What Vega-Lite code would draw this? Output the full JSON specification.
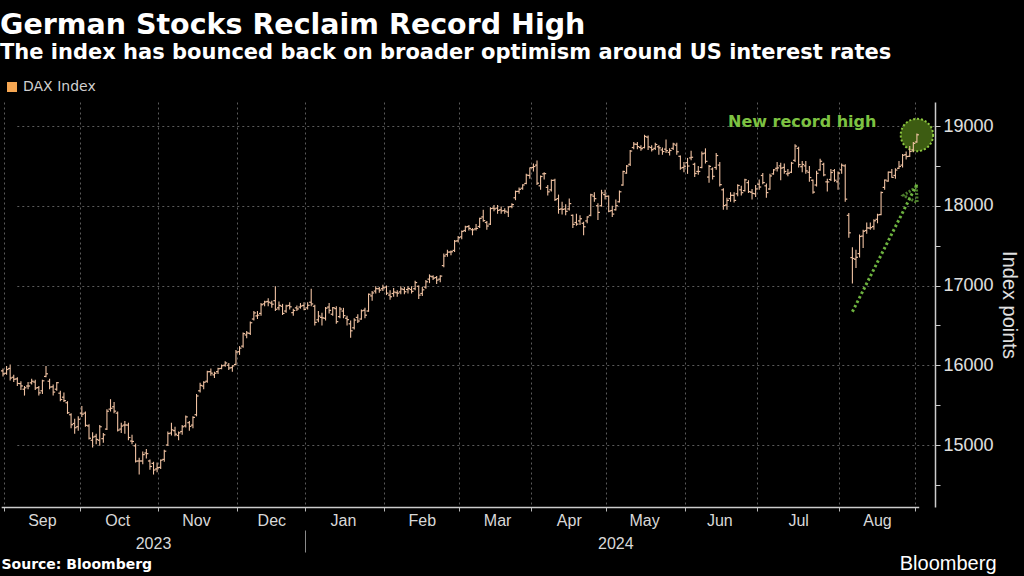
{
  "$schema": "https://vega.github.io/schema/vega-lite/v6.json",
  "width": 935,
  "height": 405,
  "autosize": "none",
  "padding": {"left": 0, "top": 102, "right": 89, "bottom": 69},
  "background": "#000000",
  "title": {
    "text": "German Stocks Reclaim Record High",
    "subtitle": "The index has bounced back on broader optimism around US interest rates",
    "anchor": "start",
    "frame": "group",
    "offset": 17,
    "font": "DejaVu Sans",
    "fontSize": 28.5,
    "fontWeight": "bold",
    "color": "#ffffff",
    "subtitleFont": "DejaVu Sans",
    "subtitleFontSize": 21,
    "subtitleFontWeight": "bold",
    "subtitleColor": "#ffffff",
    "subtitlePadding": 3
  },
  "config": {
    "view": {"stroke": null},
    "axis": {"labelFont": "Liberation Sans", "titleFont": "Liberation Sans"}
  },
  "datasets": {
    "dax": [
      {"d":"2023-08-30","o":15930,"h":15960,"l":15860,"c":15891},
      {"d":"2023-08-31","o":15900,"h":15990,"l":15880,"c":15947},
      {"d":"2023-09-01","o":15960,"h":16010,"l":15810,"c":15840},
      {"d":"2023-09-04","o":15850,"h":15880,"l":15790,"c":15825},
      {"d":"2023-09-05","o":15830,"h":15850,"l":15740,"c":15772},
      {"d":"2023-09-06","o":15770,"h":15800,"l":15690,"c":15741},
      {"d":"2023-09-07","o":15700,"h":15740,"l":15620,"c":15718},
      {"d":"2023-09-08","o":15740,"h":15790,"l":15700,"c":15740},
      {"d":"2023-09-11","o":15780,"h":15830,"l":15760,"c":15800},
      {"d":"2023-09-12","o":15790,"h":15820,"l":15690,"c":15715},
      {"d":"2023-09-13","o":15720,"h":15740,"l":15620,"c":15654},
      {"d":"2023-09-14","o":15680,"h":15820,"l":15640,"c":15805},
      {"d":"2023-09-15","o":15860,"h":15990,"l":15850,"c":15893},
      {"d":"2023-09-18","o":15800,"h":15830,"l":15700,"c":15727},
      {"d":"2023-09-19","o":15730,"h":15760,"l":15620,"c":15664},
      {"d":"2023-09-20","o":15700,"h":15790,"l":15680,"c":15782},
      {"d":"2023-09-21","o":15650,"h":15680,"l":15550,"c":15571},
      {"d":"2023-09-22","o":15600,"h":15660,"l":15540,"c":15557},
      {"d":"2023-09-25","o":15530,"h":15550,"l":15390,"c":15405},
      {"d":"2023-09-26","o":15380,"h":15400,"l":15210,"c":15255},
      {"d":"2023-09-27","o":15270,"h":15330,"l":15140,"c":15217},
      {"d":"2023-09-28","o":15230,"h":15360,"l":15180,"c":15323},
      {"d":"2023-09-29","o":15400,"h":15490,"l":15350,"c":15387},
      {"d":"2023-10-02","o":15400,"h":15420,"l":15230,"c":15247},
      {"d":"2023-10-03","o":15240,"h":15260,"l":15070,"c":15085},
      {"d":"2023-10-04","o":15060,"h":15160,"l":14970,"c":15100},
      {"d":"2023-10-05","o":15110,"h":15140,"l":15010,"c":15070},
      {"d":"2023-10-06","o":15060,"h":15250,"l":14990,"c":15229},
      {"d":"2023-10-09","o":15080,"h":15150,"l":15030,"c":15128},
      {"d":"2023-10-10","o":15200,"h":15450,"l":15190,"c":15424},
      {"d":"2023-10-11","o":15450,"h":15575,"l":15420,"c":15460},
      {"d":"2023-10-12","o":15480,"h":15540,"l":15400,"c":15425},
      {"d":"2023-10-13","o":15400,"h":15420,"l":15170,"c":15187},
      {"d":"2023-10-16","o":15200,"h":15280,"l":15150,"c":15238},
      {"d":"2023-10-17","o":15250,"h":15300,"l":15140,"c":15251},
      {"d":"2023-10-18","o":15250,"h":15280,"l":15060,"c":15094},
      {"d":"2023-10-19","o":15050,"h":15130,"l":15010,"c":15045},
      {"d":"2023-10-20","o":14990,"h":15020,"l":14780,"c":14798},
      {"d":"2023-10-23","o":14800,"h":14840,"l":14630,"c":14800},
      {"d":"2023-10-24","o":14800,"h":14920,"l":14760,"c":14880},
      {"d":"2023-10-25","o":14900,"h":14950,"l":14830,"c":14892},
      {"d":"2023-10-26","o":14800,"h":14820,"l":14690,"c":14731},
      {"d":"2023-10-27","o":14770,"h":14790,"l":14630,"c":14687},
      {"d":"2023-10-30","o":14700,"h":14780,"l":14660,"c":14716},
      {"d":"2023-10-31","o":14720,"h":14820,"l":14700,"c":14810},
      {"d":"2023-11-01","o":14820,"h":14940,"l":14790,"c":14923},
      {"d":"2023-11-02","o":15000,"h":15170,"l":14990,"c":15144},
      {"d":"2023-11-03","o":15150,"h":15280,"l":15120,"c":15190},
      {"d":"2023-11-06","o":15180,"h":15230,"l":15110,"c":15136},
      {"d":"2023-11-07","o":15120,"h":15170,"l":15060,"c":15153},
      {"d":"2023-11-08","o":15170,"h":15250,"l":15130,"c":15229},
      {"d":"2023-11-09","o":15240,"h":15370,"l":15220,"c":15353},
      {"d":"2023-11-10","o":15280,"h":15300,"l":15180,"c":15234},
      {"d":"2023-11-13","o":15250,"h":15360,"l":15210,"c":15346},
      {"d":"2023-11-14","o":15380,"h":15640,"l":15360,"c":15615},
      {"d":"2023-11-15","o":15680,"h":15780,"l":15660,"c":15748},
      {"d":"2023-11-16","o":15740,"h":15800,"l":15700,"c":15787},
      {"d":"2023-11-17","o":15800,"h":15930,"l":15780,"c":15919},
      {"d":"2023-11-20","o":15920,"h":15960,"l":15870,"c":15901},
      {"d":"2023-11-21","o":15880,"h":15920,"l":15840,"c":15900},
      {"d":"2023-11-22","o":15920,"h":15970,"l":15890,"c":15957},
      {"d":"2023-11-23","o":15960,"h":16010,"l":15950,"c":15994},
      {"d":"2023-11-24","o":16000,"h":16050,"l":15980,"c":16029},
      {"d":"2023-11-27","o":16000,"h":16030,"l":15940,"c":15966},
      {"d":"2023-11-28","o":15970,"h":16000,"l":15920,"c":15992},
      {"d":"2023-11-29","o":16010,"h":16190,"l":16000,"c":16166},
      {"d":"2023-11-30","o":16170,"h":16240,"l":16130,"c":16215},
      {"d":"2023-12-01","o":16240,"h":16410,"l":16220,"c":16397},
      {"d":"2023-12-04","o":16380,"h":16430,"l":16340,"c":16405},
      {"d":"2023-12-05","o":16400,"h":16550,"l":16380,"c":16533},
      {"d":"2023-12-06","o":16580,"h":16680,"l":16560,"c":16656},
      {"d":"2023-12-07","o":16620,"h":16680,"l":16580,"c":16628},
      {"d":"2023-12-08","o":16650,"h":16780,"l":16620,"c":16759},
      {"d":"2023-12-11","o":16770,"h":16810,"l":16740,"c":16794},
      {"d":"2023-12-12","o":16800,"h":16840,"l":16740,"c":16791},
      {"d":"2023-12-13","o":16780,"h":16810,"l":16720,"c":16766},
      {"d":"2023-12-14","o":16810,"h":16990,"l":16680,"c":16702},
      {"d":"2023-12-15","o":16720,"h":16800,"l":16690,"c":16751},
      {"d":"2023-12-18","o":16740,"h":16770,"l":16630,"c":16650},
      {"d":"2023-12-19","o":16680,"h":16760,"l":16660,"c":16744},
      {"d":"2023-12-20","o":16750,"h":16790,"l":16700,"c":16733},
      {"d":"2023-12-21","o":16660,"h":16710,"l":16620,"c":16687},
      {"d":"2023-12-22","o":16720,"h":16750,"l":16680,"c":16706},
      {"d":"2023-12-27","o":16730,"h":16780,"l":16710,"c":16742},
      {"d":"2023-12-28","o":16750,"h":16790,"l":16690,"c":16701},
      {"d":"2023-12-29","o":16720,"h":16790,"l":16700,"c":16752},
      {"d":"2024-01-02","o":16790,"h":16960,"l":16740,"c":16769},
      {"d":"2024-01-03","o":16740,"h":16760,"l":16500,"c":16538},
      {"d":"2024-01-04","o":16570,"h":16680,"l":16540,"c":16617},
      {"d":"2024-01-05","o":16600,"h":16660,"l":16500,"c":16594},
      {"d":"2024-01-08","o":16590,"h":16730,"l":16560,"c":16716},
      {"d":"2024-01-09","o":16730,"h":16780,"l":16650,"c":16689},
      {"d":"2024-01-10","o":16640,"h":16730,"l":16620,"c":16722},
      {"d":"2024-01-11","o":16710,"h":16740,"l":16520,"c":16547},
      {"d":"2024-01-12","o":16610,"h":16730,"l":16590,"c":16705},
      {"d":"2024-01-15","o":16680,"h":16720,"l":16590,"c":16622},
      {"d":"2024-01-16","o":16590,"h":16620,"l":16500,"c":16572},
      {"d":"2024-01-17","o":16520,"h":16560,"l":16345,"c":16432},
      {"d":"2024-01-18","o":16470,"h":16590,"l":16450,"c":16567},
      {"d":"2024-01-19","o":16600,"h":16640,"l":16530,"c":16555},
      {"d":"2024-01-22","o":16580,"h":16700,"l":16570,"c":16683},
      {"d":"2024-01-23","o":16690,"h":16720,"l":16590,"c":16628},
      {"d":"2024-01-24","o":16680,"h":16900,"l":16670,"c":16890},
      {"d":"2024-01-25","o":16870,"h":16930,"l":16810,"c":16907},
      {"d":"2024-01-26","o":16930,"h":16990,"l":16900,"c":16961},
      {"d":"2024-01-29","o":16960,"h":16980,"l":16910,"c":16942},
      {"d":"2024-01-30","o":16960,"h":17010,"l":16930,"c":16972},
      {"d":"2024-01-31","o":16980,"h":17000,"l":16880,"c":16904},
      {"d":"2024-02-01","o":16880,"h":16940,"l":16820,"c":16859},
      {"d":"2024-02-02","o":16900,"h":16970,"l":16860,"c":16918},
      {"d":"2024-02-05","o":16910,"h":16940,"l":16860,"c":16904},
      {"d":"2024-02-06","o":16920,"h":16990,"l":16890,"c":16957},
      {"d":"2024-02-07","o":16950,"h":16980,"l":16890,"c":16922},
      {"d":"2024-02-08","o":16950,"h":16990,"l":16900,"c":16963},
      {"d":"2024-02-09","o":16950,"h":16990,"l":16900,"c":16927},
      {"d":"2024-02-12","o":16960,"h":17060,"l":16940,"c":17037},
      {"d":"2024-02-13","o":16990,"h":17000,"l":16830,"c":16880},
      {"d":"2024-02-14","o":16900,"h":16980,"l":16870,"c":16946},
      {"d":"2024-02-15","o":16980,"h":17070,"l":16960,"c":17047},
      {"d":"2024-02-16","o":17080,"h":17140,"l":17030,"c":17117},
      {"d":"2024-02-19","o":17110,"h":17130,"l":17070,"c":17093},
      {"d":"2024-02-20","o":17100,"h":17120,"l":17020,"c":17068},
      {"d":"2024-02-21","o":17080,"h":17130,"l":17040,"c":17118},
      {"d":"2024-02-22","o":17250,"h":17400,"l":17230,"c":17370},
      {"d":"2024-02-23","o":17390,"h":17450,"l":17360,"c":17419},
      {"d":"2024-02-26","o":17420,"h":17440,"l":17380,"c":17423},
      {"d":"2024-02-27","o":17440,"h":17570,"l":17420,"c":17556},
      {"d":"2024-02-28","o":17560,"h":17620,"l":17540,"c":17601},
      {"d":"2024-02-29","o":17610,"h":17690,"l":17580,"c":17678},
      {"d":"2024-03-01","o":17690,"h":17750,"l":17670,"c":17735},
      {"d":"2024-03-04","o":17740,"h":17760,"l":17690,"c":17716},
      {"d":"2024-03-05","o":17700,"h":17720,"l":17630,"c":17698},
      {"d":"2024-03-06","o":17710,"h":17770,"l":17690,"c":17716},
      {"d":"2024-03-07","o":17740,"h":17850,"l":17720,"c":17842},
      {"d":"2024-03-08","o":17860,"h":17950,"l":17800,"c":17814},
      {"d":"2024-03-11","o":17790,"h":17810,"l":17700,"c":17746},
      {"d":"2024-03-12","o":17770,"h":17980,"l":17760,"c":17965},
      {"d":"2024-03-13","o":17970,"h":18010,"l":17930,"c":17961},
      {"d":"2024-03-14","o":17970,"h":18010,"l":17900,"c":17942},
      {"d":"2024-03-15","o":17950,"h":17990,"l":17900,"c":17936},
      {"d":"2024-03-18","o":17940,"h":17970,"l":17900,"c":17932},
      {"d":"2024-03-19","o":17920,"h":17990,"l":17860,"c":17987},
      {"d":"2024-03-20","o":17990,"h":18030,"l":17970,"c":18015},
      {"d":"2024-03-21","o":18100,"h":18190,"l":18070,"c":18179},
      {"d":"2024-03-22","o":18180,"h":18230,"l":18150,"c":18206},
      {"d":"2024-03-25","o":18220,"h":18270,"l":18200,"c":18261},
      {"d":"2024-03-26","o":18280,"h":18400,"l":18270,"c":18384},
      {"d":"2024-03-27","o":18380,"h":18480,"l":18340,"c":18477},
      {"d":"2024-03-28","o":18480,"h":18530,"l":18430,"c":18492},
      {"d":"2024-04-02","o":18510,"h":18567,"l":18260,"c":18283},
      {"d":"2024-04-03","o":18250,"h":18380,"l":18200,"c":18367},
      {"d":"2024-04-04","o":18400,"h":18420,"l":18330,"c":18403},
      {"d":"2024-04-05","o":18230,"h":18260,"l":18130,"c":18175},
      {"d":"2024-04-08","o":18200,"h":18330,"l":18180,"c":18318},
      {"d":"2024-04-09","o":18320,"h":18340,"l":18060,"c":18077},
      {"d":"2024-04-10","o":18090,"h":18140,"l":17900,"c":17954},
      {"d":"2024-04-11","o":17960,"h":18050,"l":17890,"c":17954},
      {"d":"2024-04-12","o":17960,"h":18020,"l":17880,"c":17930},
      {"d":"2024-04-15","o":17960,"h":18090,"l":17940,"c":18027},
      {"d":"2024-04-16","o":17880,"h":17890,"l":17720,"c":17767},
      {"d":"2024-04-17","o":17790,"h":17900,"l":17750,"c":17770},
      {"d":"2024-04-18","o":17810,"h":17880,"l":17760,"c":17837},
      {"d":"2024-04-19","o":17780,"h":17800,"l":17630,"c":17737},
      {"d":"2024-04-22","o":17810,"h":17870,"l":17780,"c":17860},
      {"d":"2024-04-23","o":17880,"h":18150,"l":17870,"c":18137},
      {"d":"2024-04-24","o":18120,"h":18170,"l":18050,"c":18089},
      {"d":"2024-04-25","o":18000,"h":18030,"l":17820,"c":17917},
      {"d":"2024-04-26","o":18000,"h":18200,"l":17990,"c":18161},
      {"d":"2024-04-29","o":18140,"h":18200,"l":18080,"c":18118},
      {"d":"2024-04-30","o":18120,"h":18130,"l":17920,"c":17932},
      {"d":"2024-05-02","o":17940,"h":18000,"l":17860,"c":17896},
      {"d":"2024-05-03","o":17950,"h":18080,"l":17940,"c":18001},
      {"d":"2024-05-06","o":18050,"h":18190,"l":18040,"c":18175},
      {"d":"2024-05-07","o":18260,"h":18440,"l":18250,"c":18430},
      {"d":"2024-05-08","o":18410,"h":18510,"l":18400,"c":18498},
      {"d":"2024-05-09","o":18520,"h":18700,"l":18500,"c":18686},
      {"d":"2024-05-10","o":18730,"h":18800,"l":18710,"c":18773},
      {"d":"2024-05-13","o":18770,"h":18800,"l":18710,"c":18742},
      {"d":"2024-05-14","o":18730,"h":18760,"l":18690,"c":18716},
      {"d":"2024-05-15","o":18730,"h":18890,"l":18720,"c":18869},
      {"d":"2024-05-16","o":18860,"h":18880,"l":18700,"c":18739},
      {"d":"2024-05-17","o":18730,"h":18760,"l":18680,"c":18704},
      {"d":"2024-05-20","o":18720,"h":18790,"l":18700,"c":18768},
      {"d":"2024-05-21","o":18740,"h":18760,"l":18640,"c":18726},
      {"d":"2024-05-22","o":18700,"h":18730,"l":18640,"c":18680},
      {"d":"2024-05-23","o":18710,"h":18830,"l":18660,"c":18691},
      {"d":"2024-05-24","o":18670,"h":18720,"l":18630,"c":18693},
      {"d":"2024-05-27","o":18720,"h":18790,"l":18700,"c":18774},
      {"d":"2024-05-28","o":18760,"h":18790,"l":18640,"c":18677},
      {"d":"2024-05-29","o":18620,"h":18630,"l":18450,"c":18473},
      {"d":"2024-05-30","o":18480,"h":18550,"l":18420,"c":18496},
      {"d":"2024-05-31","o":18540,"h":18600,"l":18400,"c":18498},
      {"d":"2024-06-03","o":18600,"h":18690,"l":18570,"c":18608},
      {"d":"2024-06-04","o":18520,"h":18540,"l":18360,"c":18405},
      {"d":"2024-06-05","o":18430,"h":18500,"l":18390,"c":18430},
      {"d":"2024-06-06","o":18480,"h":18680,"l":18470,"c":18652},
      {"d":"2024-06-07","o":18660,"h":18720,"l":18530,"c":18557},
      {"d":"2024-06-10","o":18360,"h":18510,"l":18290,"c":18494},
      {"d":"2024-06-11","o":18460,"h":18480,"l":18330,"c":18369},
      {"d":"2024-06-12","o":18480,"h":18660,"l":18450,"c":18630},
      {"d":"2024-06-13","o":18510,"h":18550,"l":18240,"c":18265},
      {"d":"2024-06-14","o":18200,"h":18220,"l":17950,"c":18002},
      {"d":"2024-06-17","o":18010,"h":18100,"l":17950,"c":18068},
      {"d":"2024-06-18","o":18090,"h":18170,"l":18050,"c":18131},
      {"d":"2024-06-19","o":18130,"h":18170,"l":18040,"c":18067},
      {"d":"2024-06-20","o":18150,"h":18270,"l":18120,"c":18254},
      {"d":"2024-06-21","o":18200,"h":18250,"l":18130,"c":18164},
      {"d":"2024-06-24","o":18190,"h":18340,"l":18180,"c":18325},
      {"d":"2024-06-25","o":18290,"h":18320,"l":18160,"c":18177},
      {"d":"2024-06-26","o":18170,"h":18210,"l":18080,"c":18155},
      {"d":"2024-06-27","o":18150,"h":18260,"l":18110,"c":18211},
      {"d":"2024-06-28","o":18270,"h":18330,"l":18200,"c":18235},
      {"d":"2024-07-01","o":18380,"h":18410,"l":18270,"c":18291},
      {"d":"2024-07-02","o":18250,"h":18280,"l":18100,"c":18165},
      {"d":"2024-07-03","o":18210,"h":18400,"l":18200,"c":18374},
      {"d":"2024-07-04","o":18400,"h":18460,"l":18390,"c":18450},
      {"d":"2024-07-05","o":18470,"h":18550,"l":18430,"c":18475},
      {"d":"2024-07-08","o":18500,"h":18540,"l":18320,"c":18472},
      {"d":"2024-07-09","o":18480,"h":18530,"l":18400,"c":18430},
      {"d":"2024-07-10","o":18400,"h":18460,"l":18370,"c":18407},
      {"d":"2024-07-11","o":18420,"h":18550,"l":18410,"c":18534},
      {"d":"2024-07-12","o":18570,"h":18770,"l":18550,"c":18748},
      {"d":"2024-07-15","o":18720,"h":18740,"l":18480,"c":18516},
      {"d":"2024-07-16","o":18490,"h":18560,"l":18420,"c":18518},
      {"d":"2024-07-17","o":18500,"h":18560,"l":18400,"c":18437},
      {"d":"2024-07-18","o":18420,"h":18500,"l":18300,"c":18354},
      {"d":"2024-07-19","o":18320,"h":18330,"l":18150,"c":18171},
      {"d":"2024-07-22","o":18260,"h":18440,"l":18240,"c":18407},
      {"d":"2024-07-23","o":18450,"h":18590,"l":18440,"c":18558},
      {"d":"2024-07-24","o":18520,"h":18540,"l":18370,"c":18387},
      {"d":"2024-07-25","o":18300,"h":18340,"l":18180,"c":18299},
      {"d":"2024-07-26","o":18330,"h":18460,"l":18310,"c":18417},
      {"d":"2024-07-29","o":18440,"h":18460,"l":18300,"c":18320},
      {"d":"2024-07-30","o":18300,"h":18430,"l":18200,"c":18410},
      {"d":"2024-07-31","o":18450,"h":18530,"l":18400,"c":18508},
      {"d":"2024-08-01","o":18500,"h":18520,"l":18050,"c":18083},
      {"d":"2024-08-02","o":17880,"h":17910,"l":17600,"c":17661},
      {"d":"2024-08-05","o":17350,"h":17480,"l":17025,"c":17339},
      {"d":"2024-08-06","o":17330,"h":17450,"l":17220,"c":17354},
      {"d":"2024-08-07","o":17400,"h":17640,"l":17350,"c":17615},
      {"d":"2024-08-08","o":17620,"h":17700,"l":17470,"c":17680},
      {"d":"2024-08-09","o":17690,"h":17790,"l":17650,"c":17722},
      {"d":"2024-08-12","o":17720,"h":17790,"l":17700,"c":17726},
      {"d":"2024-08-13","o":17740,"h":17830,"l":17700,"c":17812},
      {"d":"2024-08-14","o":17830,"h":17900,"l":17780,"c":17885},
      {"d":"2024-08-15","o":17890,"h":18180,"l":17880,"c":18166},
      {"d":"2024-08-16","o":18230,"h":18330,"l":18200,"c":18322},
      {"d":"2024-08-19","o":18310,"h":18430,"l":18300,"c":18421},
      {"d":"2024-08-20","o":18420,"h":18460,"l":18350,"c":18356},
      {"d":"2024-08-21","o":18380,"h":18470,"l":18340,"c":18448},
      {"d":"2024-08-22","o":18470,"h":18560,"l":18460,"c":18493},
      {"d":"2024-08-23","o":18510,"h":18650,"l":18480,"c":18633},
      {"d":"2024-08-26","o":18640,"h":18680,"l":18580,"c":18617},
      {"d":"2024-08-27","o":18620,"h":18750,"l":18610,"c":18681},
      {"d":"2024-08-28","o":18700,"h":18800,"l":18670,"c":18782},
      {"d":"2024-08-29","o":18800,"h":18905,"l":18790,"c":18890}
    ],
    "circle": [{"d":"2024-08-29","v":18887}],
    "arrow": [{"d":"2024-08-05","v":16671},{"d":"2024-08-29","v":18270}],
    "head": [{"d":"2024-08-28","v":18160}],
    "note": [{"d":"2024-07-16","v":19050,"t":"New record high"}]
  },
  "resolve": {"axis": {"x": "independent", "y": "independent"}},
  "layer": [
    {
      "data": {"name": "circle"},
      "mark": {"type": "point", "shape": "circle", "size": 1050, "filled": true, "fill": "#3d5c12", "fillOpacity": 1, "stroke": "#8cc63f", "strokeWidth": 2, "strokeDash": [2, 2]},
      "encoding": {
        "x": {"field": "d", "type": "ordinal", "scale": {"type": "band", "paddingInner": 0, "paddingOuter": 0, "range": [1.2, 918.7]},
          "axis": {"orient": "bottom", "values": ["2023-08-31","2023-09-29","2023-10-31","2023-11-30","2023-12-29","2024-01-31","2024-02-29","2024-03-28","2024-04-30","2024-05-31","2024-06-28","2024-07-31","2024-08-29"],
            "bandPosition": 0, "labels": false, "title": null, "grid": true, "gridColor": "#5a5a5a", "gridDash": [2, 3], "gridWidth": 1,
            "ticks": true, "tickSize": 4, "tickColor": "#bbbbbb", "domain": true, "domainColor": "#cccccc", "domainWidth": 1.5}},
        "y": {"field": "v", "type": "quantitative", "scale": {"domain": [14223, 19301], "nice": false, "zero": false}, "axis": null}
      }
    },
    {
      "data": {"name": "dax"},
      "mark": {"type": "rule", "strokeWidth": 1.1},
      "encoding": {
        "x": {"field": "d", "type": "ordinal", "scale": {"type": "band", "paddingInner": 0, "paddingOuter": 0, "range": [1.2, 918.7]},
          "axis": {"orient": "bottom", "values": ["2023-09-14","2023-10-13","2023-11-14","2023-12-13","2024-01-15","2024-02-14","2024-03-14","2024-04-15","2024-05-15","2024-06-13","2024-07-15","2024-08-14"],
            "labelExpr": "utcFormat(toDate(datum.value), '%b')", "labelAngle": 0, "labelFontSize": 16, "labelColor": "#d8d8d8", "labelPadding": 5, "labelOverlap": false, "labelFlush": false,
            "ticks": false, "domain": false, "grid": false,
            "title": "Source: Bloomberg", "titleFont": "DejaVu Sans", "titleFontSize": 14, "titleFontWeight": "bold", "titleColor": "#ffffff",
            "titleAnchor": "start", "titleAlign": "left", "titleBaseline": "middle", "titleX": 1, "titleY": 57}},
        "y": {"field": "l", "type": "quantitative", "scale": {"domain": [14223, 19301], "nice": false, "zero": false},
          "axis": {"orient": "right", "values": [15000, 16000, 17000, 18000, 19000], "format": "d", "grid": true, "gridColor": "#5a5a5a", "gridDash": [2, 3], "gridWidth": 1,
            "ticks": true, "tickSize": 5, "tickColor": "#cccccc", "labelFontSize": 18, "labelColor": "#e0e0e0", "labelPadding": 3,
            "domain": true, "domainColor": "#cccccc", "domainWidth": 1.5,
            "title": "Index points", "titleAngle": 90, "titleFontSize": 20, "titleFontWeight": "normal", "titleColor": "#e0e0e0", "titlePadding": 5}},
        "y2": {"field": "h"},
        "color": {"datum": "DAX Index", "scale": {"range": ["#f0c2a2"]},
          "legend": {"orient": "none", "legendX": 5, "legendY": -22, "title": null, "symbolType": "square", "symbolSize": 100,
            "labelFont": "DejaVu Sans", "labelFontSize": 14, "labelColor": "#d0d0d0", "labelOffset": 4,
            "encode": {"symbols": {"update": {"fill": {"value": "#f5a652"}, "stroke": {"value": "#f5a652"}, "strokeWidth": {"value": 0}, "opacity": {"value": 1}}}}}}
      }
    },
    {
      "data": {"name": "dax"},
      "mark": {"type": "tick", "size": 2, "thickness": 1.2, "xOffset": -1, "color": "#f0c2a2", "opacity": 1},
      "encoding": {
        "x": {"field": "d", "type": "ordinal", "scale": {"type": "band", "paddingInner": 0, "paddingOuter": 0, "range": [1.2, 918.7]},
          "axis": {"orient": "bottom", "values": ["2023-10-27", "2024-05-03"], "labelExpr": "utcFormat(toDate(datum.value), '%Y')", "labelAngle": 0,
            "labelFontSize": 16, "labelColor": "#d8d8d8", "labelPadding": 28, "labelOverlap": false, "labelFlush": false,
            "ticks": false, "domain": false, "grid": false,
            "title": "Bloomberg", "titleFont": "Liberation Sans", "titleFontSize": 20, "titleFontWeight": "normal", "titleColor": "#ffffff",
            "titleAnchor": "start", "titleAlign": "right", "titleBaseline": "middle", "titleX": 996, "titleY": 56}},
        "y": {"field": "o", "type": "quantitative", "scale": {"domain": [14223, 19301], "nice": false, "zero": false},
          "axis": {"orient": "right", "values": [14500, 15500, 16500, 17500, 18500], "labels": false, "grid": false, "domain": false, "ticks": true, "tickSize": 5, "tickColor": "#cccccc", "title": null}}
      }
    },
    {
      "data": {"name": "dax"},
      "mark": {"type": "tick", "size": 2, "thickness": 1.2, "xOffset": 1, "color": "#f0c2a2", "opacity": 1},
      "encoding": {
        "x": {"field": "d", "type": "ordinal", "scale": {"type": "band", "paddingInner": 0, "paddingOuter": 0, "range": [1.2, 918.7]},
          "axis": {"orient": "bottom", "values": ["2023-12-29"], "bandPosition": 0, "labels": false, "title": null, "grid": false, "domain": false,
            "ticks": true, "tickSize": 22, "tickColor": "#8a8a8a", "tickWidth": 1, "offset": 23}},
        "y": {"field": "c", "type": "quantitative", "scale": {"domain": [14223, 19301], "nice": false, "zero": false}, "axis": null}
      }
    },
    {
      "data": {"name": "arrow"},
      "mark": {"type": "line", "color": "#6db33f", "strokeWidth": 3, "strokeDash": [2.5, 2.5]},
      "encoding": {
        "x": {"field": "d", "type": "ordinal", "axis": null},
        "y": {"field": "v", "type": "quantitative", "axis": null}
      }
    },
    {
      "data": {"name": "head"},
      "mark": {"type": "point", "shape": "triangle-up", "angle": 27, "size": 240, "filled": false, "stroke": "#6db33f", "strokeWidth": 3, "strokeDash": [2, 1.5]},
      "encoding": {
        "x": {"field": "d", "type": "ordinal", "axis": null},
        "y": {"field": "v", "type": "quantitative", "axis": null}
      }
    },
    {
      "data": {"name": "note"},
      "mark": {"type": "text", "font": "DejaVu Sans", "fontWeight": "bold", "fontSize": 16, "color": "#7dc242", "align": "center", "baseline": "middle"},
      "encoding": {
        "x": {"field": "d", "type": "ordinal", "axis": null},
        "y": {"field": "v", "type": "quantitative", "axis": null},
        "text": {"field": "t"}
      }
    }
  ]
}
